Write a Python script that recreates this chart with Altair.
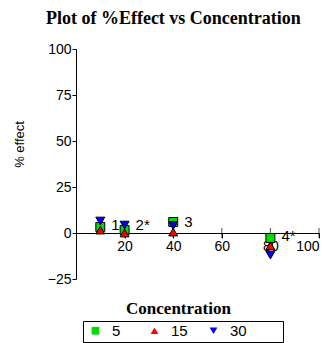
import altair as alt
import pandas as pd

# data
concentration = [10, 10, 10, 20, 20, 20, 40, 40, 40, 80, 80, 80]
effect = [3.3, 1.6, 6.5, 1.6, 0.0, 4.3, 6.0, 0.5, 4.0, -2.7, -7.0, -12.0]
time_group = ["5", "15", "30"] * 4

label_x = [10, 20, 40, 80]
label_y = [4.3, 4.3, 6.0, -1.6]
label_text = ["1", "2*", "3", "4*"]

x_ticks = [20, 40, 60, 80, 100]
y_ticks = [-25, 0, 25, 50, 75, 100]

df = pd.DataFrame({"conc": concentration, "effect": effect, "grp": time_group})
lab = pd.DataFrame({"conc": label_x, "effect": label_y, "txt": label_text})
tk = pd.DataFrame({"conc": x_ticks, "effect": [0] * len(x_ticks)})

SANS = "Liberation Sans"
SERIF = "Liberation Serif"
GROUPS = ["5", "15", "30"]

x_scale = alt.Scale(domain=[0, 100], nice=False)
y_scale = alt.Scale(domain=[-25, 100], nice=False)

# invisible legend title used only to widen the legend box on the right
leg = alt.Legend(title="MM", titleOrient="right", titleFontSize=18, titlePadding=4, titleOpacity=0,
                 orient="none", legendX=7, legendY=272, direction="horizontal",
                 strokeColor="black", padding=2, cornerRadius=0,
                 labelFont=SANS, labelFontSize=15, labelColor="black",
                 symbolStrokeColor="black", symbolStrokeWidth=1.2, symbolSize=60,
                 symbolOffset=3, labelOffset=9, gridAlign="all",
                 columnPadding=15, symbolOpacity=1)

points = alt.Chart(df).mark_point(filled=True, size=80, opacity=1).encode(
    x=alt.X("conc:Q", scale=x_scale,
            axis=alt.Axis(values=x_ticks, offset=-46, grid=False, title="Concentration",
                          titleFont=SERIF, titleFontSize=17, titleFontWeight="bold", titleColor="black",
                          titleX=102, titleY=67, titleAnchor="middle",
                          labelFont=SANS, labelFontSize=14, labelColor="black",
                          tickColor="black", domainColor="black", tickSize=5, labelPadding=1)),
    y=alt.Y("effect:Q", scale=y_scale,
            axis=alt.Axis(values=y_ticks, grid=False, title="% effect",
                          titleFont=SANS, titleFontSize=13, titleFontWeight="normal", titleColor="black",
                          titlePadding=21, titleY=95,
                          labelFont=SANS, labelFontSize=14, labelColor="black", labelPadding=1,
                          tickColor="black", domainColor="black", tickSize=4)),
    fill=alt.Fill("grp:N", sort=GROUPS,
                  scale=alt.Scale(domain=GROUPS, range=["#00dd00", "#ff0000", "#0000ff"]),
                  legend=leg),
    shape=alt.Shape("grp:N", sort=GROUPS,
                    scale=alt.Scale(domain=GROUPS, range=["square", "triangle-up", "triangle-down"]),
                    legend=leg),
    stroke=alt.value("black"),
    strokeWidth=alt.value(1),
)

ticks = alt.Chart(tk).mark_tick(orient="vertical", size=10, thickness=1, color="black").encode(
    x=alt.X("conc:Q", scale=x_scale),
    y=alt.Y("effect:Q", scale=y_scale),
)

labels = alt.Chart(lab).mark_text(align="left", baseline="middle", dx=11, font=SANS, fontSize=15, color="black").encode(
    x=alt.X("conc:Q", scale=x_scale),
    y=alt.Y("effect:Q", scale=y_scale),
    text="txt:N",
)

chart = alt.layer(ticks, points, labels).properties(
    width=243, height=230,
    padding={"left": 13, "top": 10, "right": 5, "bottom": 5},
    title=alt.TitleParams("Plot of %Effect vs Concentration", font=SERIF, fontSize=18, fontWeight="bold",
                          color="black", anchor="middle", frame="bounds", offset=14, dx=7),
).configure(background="white").configure_view(stroke=None, strokeWidth=0)

chart.save("out.html", embed_options={"renderer": "svg", "actions": False})
